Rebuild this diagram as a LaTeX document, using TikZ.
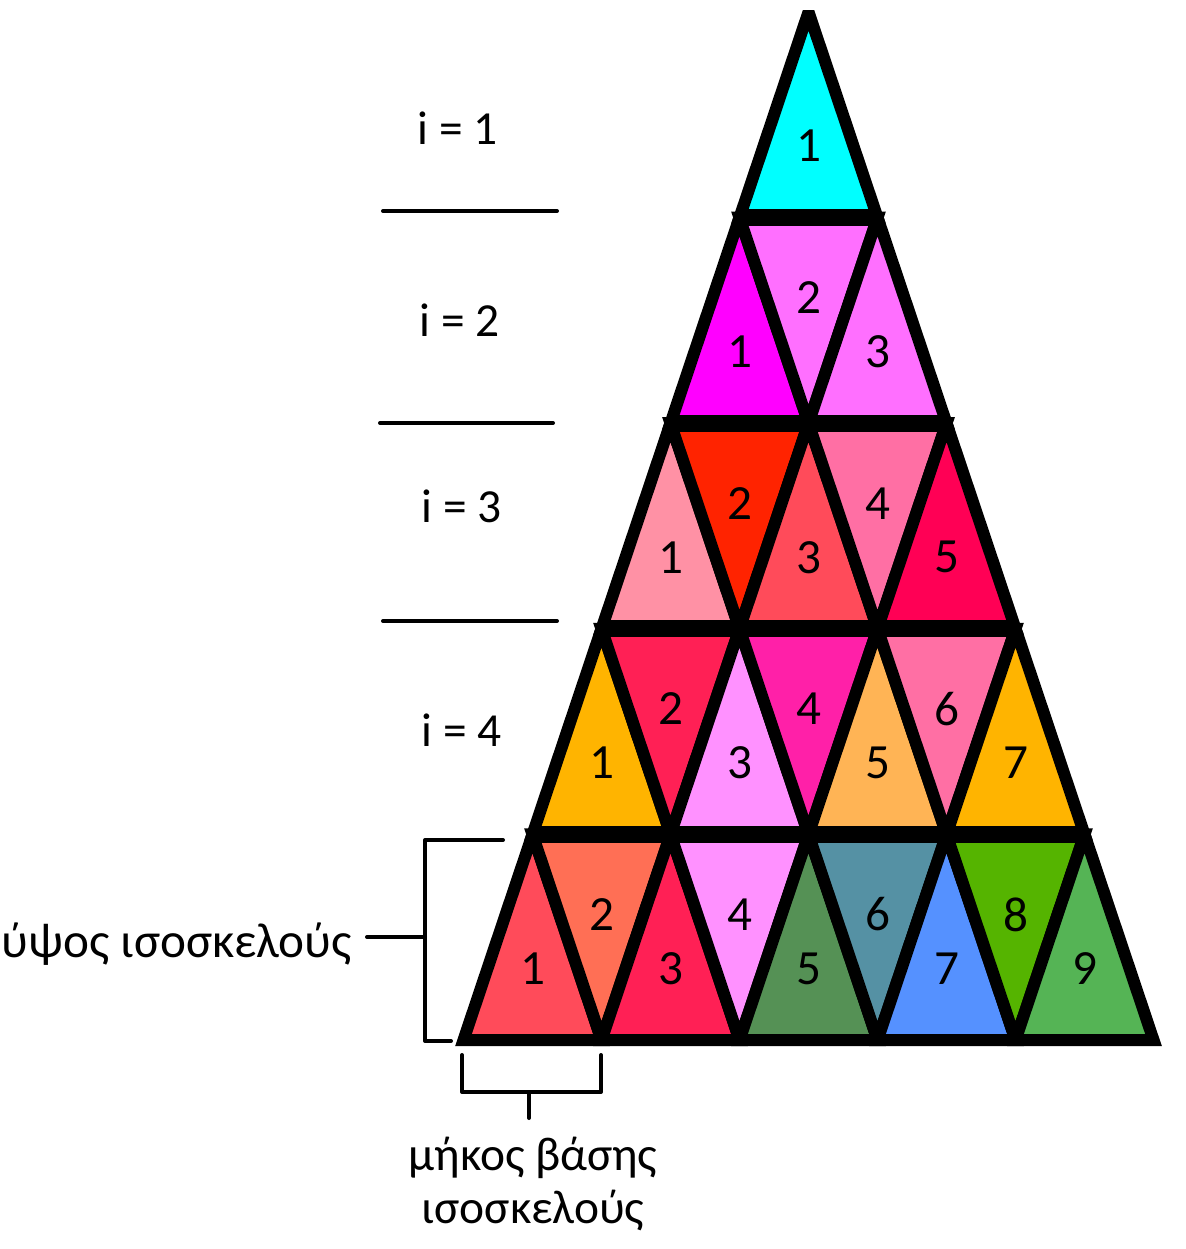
\documentclass[tikz,border=0pt]{standalone}
\usepackage{fontspec}
\setmainfont{Carlito}
\usetikzlibrary{positioning}
\definecolor{cyan1}{RGB}{0, 255, 255}
\definecolor{magenta1}{RGB}{255, 0, 255}
\definecolor{violet1}{RGB}{255, 111, 255}
\definecolor{rose1}{RGB}{255, 145, 165}
\definecolor{red1}{RGB}{255, 35, 0}
\definecolor{coral1}{RGB}{255, 75, 90}
\definecolor{pink1}{RGB}{255, 111, 164}
\definecolor{crimson1}{RGB}{255, 0, 85}
\definecolor{amber1}{RGB}{255, 180, 0}
\definecolor{raspberry1}{RGB}{255, 32, 85}
\definecolor{lilac1}{RGB}{255, 145, 255}
\definecolor{fuchsia1}{RGB}{255, 32, 168}
\definecolor{peach1}{RGB}{255, 180, 85}
\definecolor{salmon1}{RGB}{255, 111, 85}
\definecolor{green1}{RGB}{85, 145, 85}
\definecolor{teal1}{RGB}{85, 145, 164}
\definecolor{blue1}{RGB}{85, 145, 255}
\definecolor{lime1}{RGB}{85, 180, 0}
\definecolor{green2}{RGB}{85, 180, 85}

\begin{document}
\begin{tikzpicture}[x=0.2mm, y=-0.2mm,
  tri/.style={draw=black, line width=2.4mm, line join=miter, miter limit=2},
  num/.style={font=\fontsize{28}{32}\selectfont, inner sep=0pt},
  lbl/.style={font=\fontsize{27}{32}\selectfont, inner sep=0pt},
  rule/.style={line width=0.8mm, line cap=round},
  brk/.style={line width=0.8mm, line join=round, line cap=round}]
  \useasboundingbox (0,0) rectangle (1185,1249);
  \foreach \r/\j/\col in {1/1/cyan1,
      2/1/magenta1, 2/2/violet1, 2/3/violet1,
      3/1/rose1, 3/2/red1, 3/3/coral1, 3/4/pink1, 3/5/crimson1,
      4/1/amber1, 4/2/raspberry1, 4/3/lilac1, 4/4/fuchsia1, 4/5/peach1, 4/6/pink1, 4/7/amber1,
      5/1/coral1, 5/2/salmon1, 5/3/raspberry1, 5/4/lilac1, 5/5/green1, 5/6/teal1, 5/7/blue1, 5/8/lime1, 5/9/green2} {
    \pgfmathsetmacro\L{808.5-69*\r+69*(\j-1)}
    \pgfmathsetmacro\T{12+205.6*(\r-1)}
    \pgfmathsetmacro\B{\T+205.6}
    \ifodd\j\relax
      \filldraw[tri, fill=\col] (\L,\B) -- (\L+138,\B) -- (\L+69,\T) -- cycle;
      \node[num] (n\r\j) at (\L+69,\T+134) {\j};
    \else
      \filldraw[tri, fill=\col] (\L,\T) -- (\L+138,\T) -- (\L+69,\B) -- cycle;
      \node[num] (n\r\j) at (\L+69,\T+80) {\j};
    \fi
  }
  \foreach \r in {1,...,4}
    \draw[line width=3.4mm] (808.5-69*\r,12+205.6*\r) -- (808.5+69*\r,12+205.6*\r);

  \node[lbl] (row1) at (458,128) {i = 1};
  \node[lbl] (row2) at (460,320) {i = 2};
  \node[lbl] (row3) at (462,506) {i = 3};
  \node[lbl] (row4) at (462,730) {i = 4};
  \draw[rule] (383,211) -- (557,211);
  \draw[rule] (380,423) -- (553,423);
  \draw[rule] (383,621) -- (557,621);

  \draw[brk] (503,840) -- (425,840) -- (425,1041) -- (451,1041);
  \draw[brk] (367,937) -- (425,937);
  \node[lbl, anchor=base east, font=\fontsize{28}{34}\selectfont] (height) at (352,957) {ύψος ισοσκελούς};

  \draw[brk] (462,1055) -- (462,1092) -- (601,1092) -- (601,1055);
  \draw[brk] (529,1092) -- (529,1118);
  \node[lbl, anchor=base] (base1) at (533,1170) {μήκος βάσης};
  \node[lbl, anchor=base] (base2) at (533,1223) {ισοσκελούς};
\end{tikzpicture}
\end{document}
